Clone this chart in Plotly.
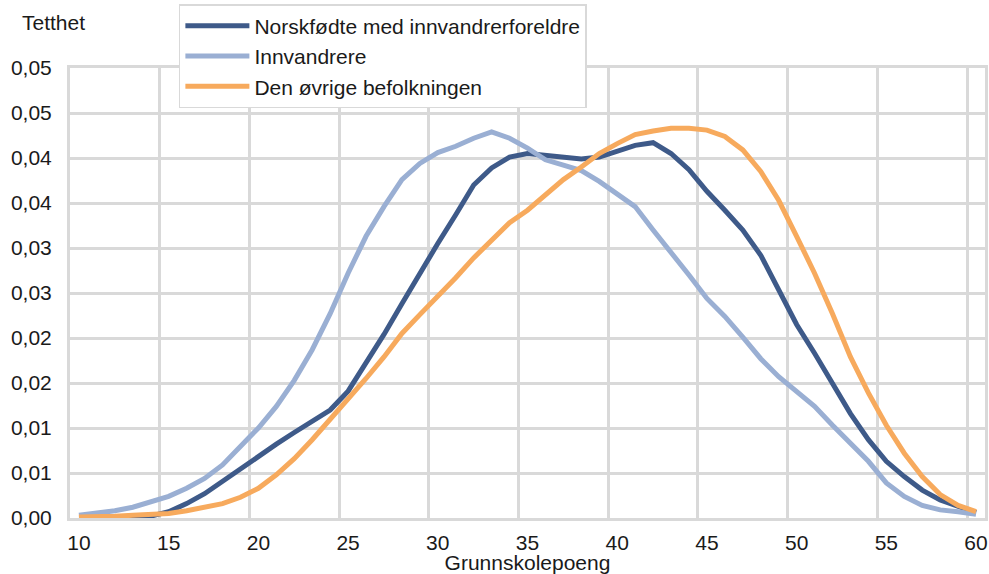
"""Tetthet av grunnskolepoeng etter innvandringsbakgrunn."""
import plotly.graph_objects as go

# grunnskolepoeng 10..60 (kategorier)
poeng = list(range(10, 61))

norskfodte = [
    0.0001, 0.0001, 0.0001, 0.0001, 0.0002, 0.0007, 0.0016, 0.0027, 0.0041, 0.0055,
    0.0069, 0.0082, 0.0095, 0.0107, 0.0120, 0.0141, 0.0172, 0.0204, 0.0238, 0.0272,
    0.0305, 0.0337, 0.0370, 0.0389, 0.0401, 0.0405, 0.0403, 0.0401, 0.0399, 0.0401,
    0.0407, 0.0414, 0.0417, 0.0405, 0.0387, 0.0363, 0.0342, 0.0320, 0.0292, 0.0253,
    0.0215, 0.0183, 0.0150, 0.0116, 0.0087, 0.0063, 0.0046, 0.0031, 0.0020, 0.0013,
    0.0006,
]
innvandrere = [
    0.0003, 0.0005, 0.0008, 0.0012, 0.0018, 0.0024, 0.0033, 0.0044, 0.0059, 0.0079,
    0.0100, 0.0124, 0.0153, 0.0187, 0.0227, 0.0272, 0.0313, 0.0346, 0.0376, 0.0394,
    0.0406, 0.0413, 0.0422, 0.0429, 0.0422, 0.0411, 0.0398, 0.0392, 0.0386, 0.0374,
    0.0360, 0.0346, 0.0320, 0.0296, 0.0270, 0.0244, 0.0224, 0.0201, 0.0177, 0.0157,
    0.0141, 0.0124, 0.0103, 0.0083, 0.0063, 0.0039, 0.0024, 0.0014, 0.0009, 0.0007,
    0.0004,
]
ovrige = [
    0.0001, 0.0001, 0.0002, 0.0003, 0.0004, 0.0005, 0.0008, 0.0012, 0.0016, 0.0023,
    0.0033, 0.0048, 0.0066, 0.0087, 0.0109, 0.0131, 0.0155, 0.0179, 0.0205, 0.0226,
    0.0246, 0.0267, 0.0289, 0.0309, 0.0328, 0.0342, 0.0359, 0.0376, 0.0390, 0.0405,
    0.0416, 0.0426, 0.0430, 0.0433, 0.0433, 0.0431, 0.0424, 0.0409, 0.0385, 0.0353,
    0.0313, 0.0272, 0.0227, 0.0179, 0.0139, 0.0103, 0.0072, 0.0046, 0.0026, 0.0014,
    0.0007,
]

x_ticks = list(range(10, 61, 5))
y_ticks = [i * 0.005 for i in range(11)]
y_ticktext = ["0,00", "0,01", "0,01", "0,02", "0,02", "0,03",
              "0,03", "0,04", "0,04", "0,05", "0,05"]

FONT = "Liberation Sans, Arial, sans-serif"
GRID = "#d9d9d9"

series = [
    ("Norskfødte med innvandrerforeldre", norskfodte, "#3e5a89"),
    ("Innvandrere", innvandrere, "#9aafd3"),
    ("Den øvrige befolkningen", ovrige, "#f7aa5d"),
]

fig = go.Figure()
for name, vals, color in series:
    fig.add_trace(go.Scatter(
        x=poeng, y=vals, name=name, mode="lines",
        line=dict(color=color, width=5),
        legendgroup=name,
    ))

fig.update_layout(
    width=989, height=574,
    paper_bgcolor="white", plot_bgcolor="white",
    font=dict(family=FONT, size=21, color="#1a1a1a"),
    margin=dict(l=70, r=4, t=68, b=56),
    legend=dict(
        x=0.119, y=1.142, xanchor="left", yanchor="top",
        bordercolor=GRID, borderwidth=1.5, bgcolor="white",
        font=dict(size=21), tracegroupgap=0, itemwidth=64,
    ),
    annotations=[dict(
        text="Tetthet", xref="paper", yref="paper",
        x=-0.018, y=1.102, xanchor="center", yanchor="middle",
        showarrow=False, font=dict(size=21),
    )],
)

fig.update_xaxes(
    range=[9.5, 60.5], tickvals=x_ticks, showgrid=False, zeroline=False,
    minor=dict(tickvals=[v - 0.5 for v in x_ticks], showgrid=True,
               gridcolor=GRID, gridwidth=3),
    showline=True, linecolor=GRID, linewidth=3, mirror=True,
    ticks="", ticklabelstandoff=4, automargin=False,
    title=dict(text="Grunnskolepoeng", standoff=14, font=dict(size=21)),
)
fig.update_yaxes(
    range=[0, 0.05], tickvals=y_ticks, ticktext=y_ticktext,
    showgrid=True, gridcolor=GRID, gridwidth=3, zeroline=False,
    showline=True, linecolor=GRID, linewidth=3, mirror=True,
    ticks="", ticklabelstandoff=11, automargin=False,
)

# drop the default 8px page margin so the figure fills the window
fig.write_html("out.html", config={"displayModeBar": False},
               post_script="document.body.style.margin='0';")
